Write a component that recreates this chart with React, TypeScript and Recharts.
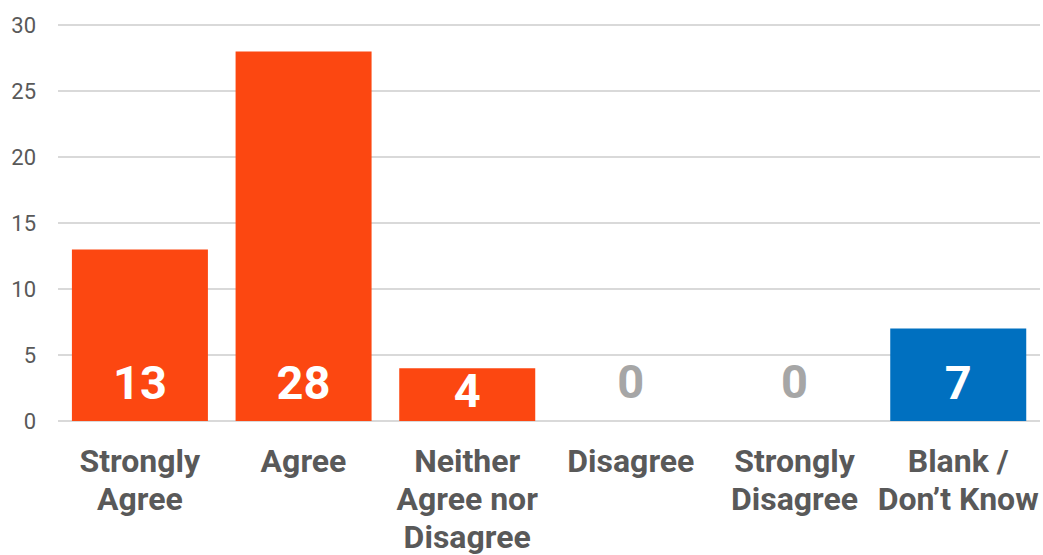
import React from "react";
import { BarChart, Bar, XAxis, YAxis, CartesianGrid, Cell, LabelList } from "recharts";

const categories = ["Strongly Agree", "Agree", "Neither Agree nor Disagree", "Disagree", "Strongly Disagree", "Blank / Don’t Know"];
const categoryLines = [["Strongly", "Agree"], ["Agree"], ["Neither", "Agree nor", "Disagree"], ["Disagree"], ["Strongly", "Disagree"], ["Blank /", "Don’t Know"]];
const responses = [13, 28, 4, 0, 0, 7];
const yTicks = [0, 5, 10, 15, 20, 25, 30];

const data = categories.map((name, i) => ({ name, lines: categoryLines[i], value: responses[i] }));

const ORANGE = "#FC4711";
const BLUE = "#0070C0";
const TEXT = "#595959";
const FONT = "Roboto, 'Noto Sans', sans-serif";

// category labels; zero values have no bar, so their gray label is drawn here too
const XTick = ({ x, y, payload }: any) => {
  const item = data.find((d) => d.name === payload.value);
  const lines = item ? item.lines : [payload.value];
  const axisTop = y - 9;
  return (
    <g>
      {item && item.value === 0 && (
        <text x={x} y={axisTop - 22} textAnchor="middle" fill="#A6A6A6" fontFamily={FONT} fontSize={47} fontWeight={700}>
          {item.value}
        </text>
      )}
      <text x={x} y={y} textAnchor="middle" fill={TEXT} fontFamily={FONT} fontSize={32} fontWeight={700}>
        {lines.map((l: string, i: number) => (
          <tspan key={i} x={x} y={y + 43 + i * 38}>
            {l}
          </tspan>
        ))}
      </text>
    </g>
  );
};

const YTick = ({ y, payload }: any) => (
  <text x={36} y={y + 8} textAnchor="end" fill={TEXT} fontFamily={FONT} fontSize={22}>
    {payload.value}
  </text>
);

const ValueLabel = (props: any) => {
  const { x, y, width, height, value } = props;
  if (!value) return null;
  const base = y + height;
  let cy = base - 39;
  if (height < 80) cy = y + 22;
  return (
    <text x={x + width / 2} y={cy + 17} textAnchor="middle" fill="#FFFFFF" fontFamily={FONT} fontSize={47} fontWeight={700}>
      {value}
    </text>
  );
};

export default function App() {
  return (
    <div style={{ position: "absolute", left: 0, top: 0, width: 1043, height: 555, background: "#fff" }}>
      <BarChart width={1043} height={555} data={data} margin={{ top: 25, right: 3, left: 0, bottom: 0 }} barCategoryGap="8.5%">
        <CartesianGrid vertical={false} stroke="#D9D9D9" strokeWidth={2} />
        <XAxis dataKey="name" axisLine={false} tickLine={false} height={134} tick={<XTick />} interval={0} />
        <YAxis width={58} domain={[0, 30]} ticks={yTicks} axisLine={false} tickLine={false} tick={<YTick />} />
        <Bar dataKey="value" isAnimationActive={false}>
          {data.map((d, i) => (
            <Cell key={d.name} fill={i === 5 ? BLUE : ORANGE} />
          ))}
          <LabelList dataKey="value" content={<ValueLabel />} />
        </Bar>
      </BarChart>
    </div>
  );
}
